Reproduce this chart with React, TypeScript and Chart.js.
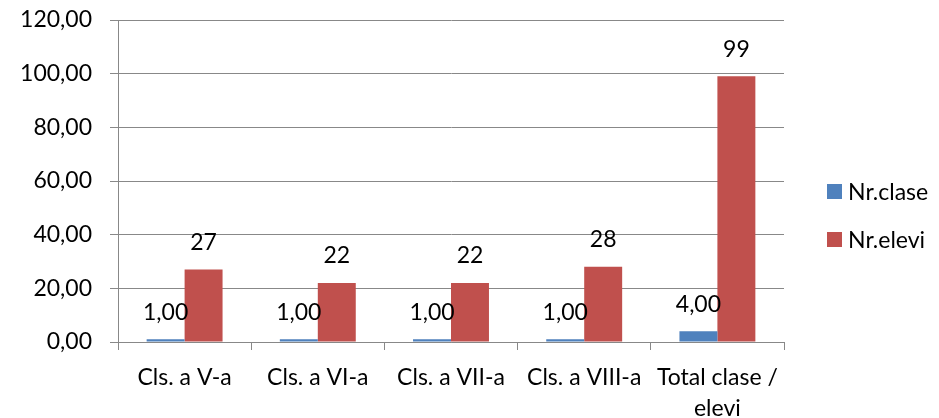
import React, { useEffect, useRef } from "react";
import { Chart, registerables } from "chart.js";

Chart.register(...registerables);

const categories: (string | string[])[] = [
  "Cls. a V-a",
  "Cls. a VI-a",
  "Cls. a VII-a",
  "Cls. a VIII-a",
  ["Total clase /", "elevi"],
];
const nrClase = [1, 1, 1, 1, 4];
const nrElevi = [27, 22, 22, 28, 99];
const seriesNames = ["Nr.clase", "Nr.elevi"];
const seriesColors = ["#4F81BD", "#C0504D"];
const yTicks = { min: 0, max: 120, step: 20 };

const FONT = "Lato, 'Open Sans', sans-serif";
const FONT_SIZE = 23;
const GRID = "#888888";

const fmtComma = (v: number) => v.toFixed(2).replace(".", ",");

const labelsPlugin = {
  id: "barLabels",
  afterDatasetsDraw(chart: any) {
    const ctx = chart.ctx;
    ctx.save();
    ctx.font = `${FONT_SIZE}px ${FONT}`;
    ctx.fillStyle = "#000";
    ctx.textAlign = "center";
    ctx.textBaseline = "middle";
    chart.data.datasets.forEach((ds: any, di: number) => {
      const meta = chart.getDatasetMeta(di);
      meta.data.forEach((bar: any, i: number) => {
        const v = ds.data[i];
        const txt = di === 0 ? fmtComma(v) : String(v);
        ctx.fillText(txt, bar.x, bar.y - 27);
      });
    });
    ctx.restore();
  },
};

const legendPlugin = {
  id: "sideLegend",
  afterDraw(chart: any) {
    const ctx = chart.ctx;
    const area = chart.chartArea;
    const x0 = area.right + 43;
    const ys = [area.top + 171.5, area.top + 219.5];
    ctx.save();
    ctx.font = `${FONT_SIZE}px ${FONT}`;
    ctx.textBaseline = "middle";
    ctx.textAlign = "left";
    seriesNames.forEach((n, i) => {
      ctx.fillStyle = seriesColors[i];
      ctx.fillRect(x0, ys[i] - 7.5, 15, 15);
      ctx.fillStyle = "#000";
      ctx.fillText(n, x0 + 21, ys[i] + 1);
    });
    ctx.restore();
  },
};

export default function App() {
  const ref = useRef<HTMLCanvasElement | null>(null);
  useEffect(() => {
    if (!ref.current) return;
    const chart = new Chart(ref.current, {
      type: "bar",
      data: {
        labels: categories,
        datasets: [
          { label: seriesNames[0], data: nrClase, backgroundColor: seriesColors[0] },
          { label: seriesNames[1], data: nrElevi, backgroundColor: seriesColors[1] },
        ],
      },
      options: {
        animation: false,
        responsive: true,
        maintainAspectRatio: false,
        layout: { padding: { top: 12, right: 147, left: 0, bottom: 0 } },
        datasets: { bar: { barPercentage: 1, categoryPercentage: 0.57 } },
        plugins: { legend: { display: false }, tooltip: { enabled: false } },
        scales: {
          x: {
            grid: {
              offset: true,
              drawOnChartArea: false,
              drawTicks: true,
              tickLength: 8,
              color: GRID,
            },
            border: { color: GRID, width: 1 },
            ticks: {
              color: "#000",
              font: { family: FONT, size: FONT_SIZE, lineHeight: 1.35 },
              padding: 12,
              maxRotation: 0,
              autoSkip: false,
            },
            afterFit: (s: any) => {
              s.height = 76;
              s.paddingTop = 0;
              s.paddingBottom = 0;
            },
          },
          y: {
            min: yTicks.min,
            max: yTicks.max,
            ticks: {
              stepSize: yTicks.step,
              color: "#000",
              font: { family: FONT, size: FONT_SIZE },
              padding: 18,
              callback: (v: any) => fmtComma(Number(v)),
            },
            grid: { color: GRID, tickLength: 8, lineWidth: 1 },
            border: { color: GRID, width: 1 },
            afterFit: (s: any) => {
              s.width = 110;
              s.paddingTop = 0;
              s.paddingBottom = 0;
            },
          },
        },
      },
      plugins: [labelsPlugin, legendPlugin],
    });
    return () => chart.destroy();
  }, []);
  return (
    <div style={{ width: 923, height: 410, position: "relative" }}>
      <canvas ref={ref} />
    </div>
  );
}
